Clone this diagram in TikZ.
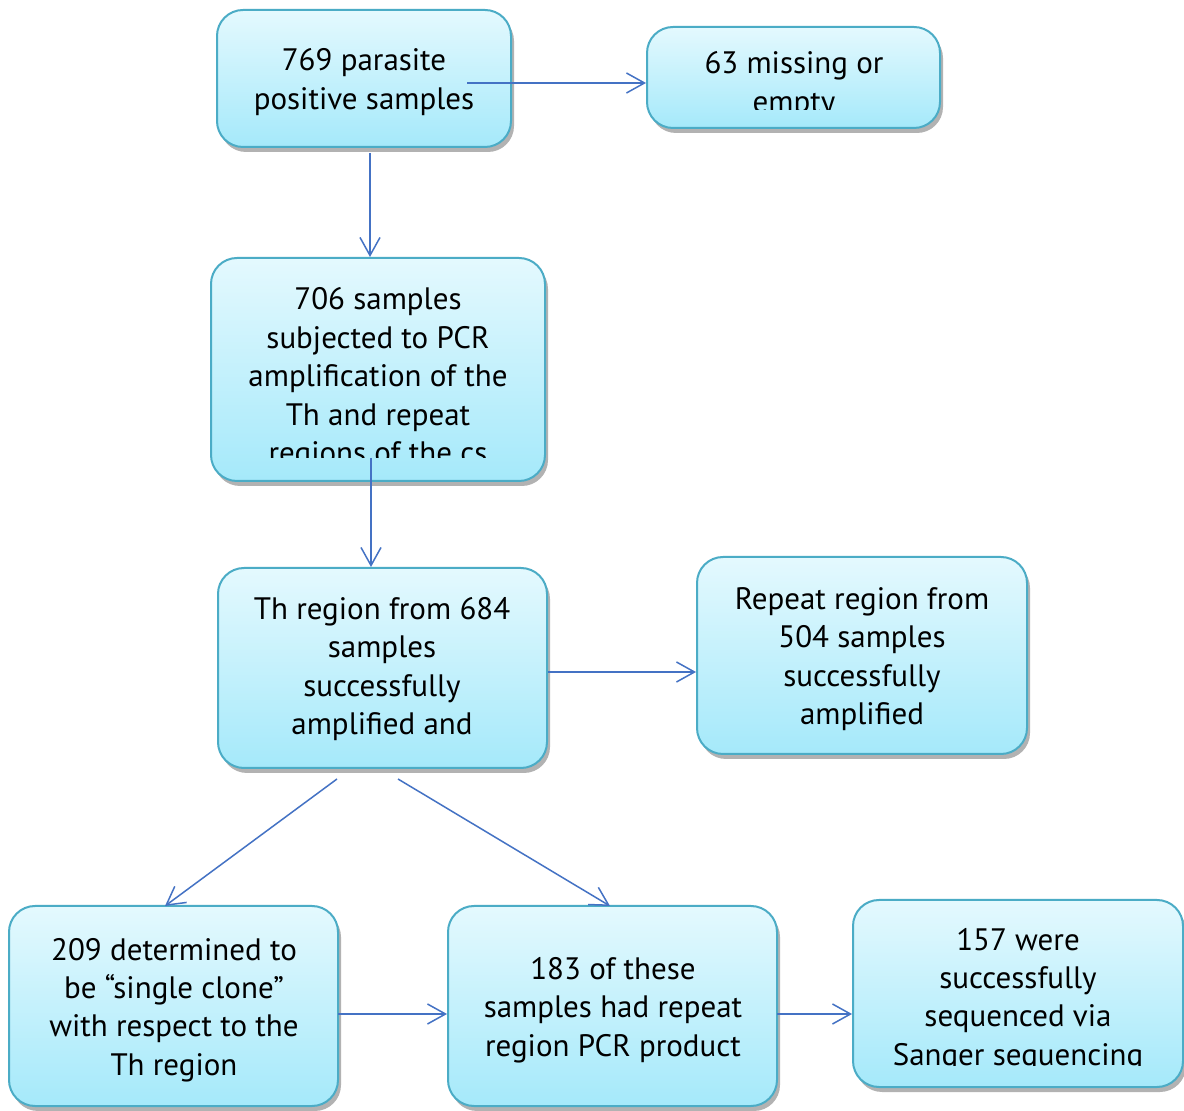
\documentclass[tikz,border=0pt]{standalone}
\usepackage{fontspec}
\setmainfont{PT Sans}
\usetikzlibrary{arrows.meta,shadows}
\definecolor{bordc}{RGB}{75,172,198}
\definecolor{topc}{RGB}{228,249,254}
\definecolor{botc}{RGB}{165,233,250}
\definecolor{arrc}{RGB}{68,114,196}
\begin{document}
\begin{tikzpicture}[x=0.5pt,y=-0.5pt,
  box/.style={draw=bordc, line width=1pt, rounded corners=13pt, top color=topc, bottom color=botc,
    drop shadow={shadow xshift=1.5pt,shadow yshift=-2.5pt,fill=black!50,opacity=0.6}, inner sep=0pt},
  txt/.style={align=center, font=\fontsize{15.5}{19.2}\selectfont, inner sep=0pt},
  arr/.style={draw=arrc, line width=0.75pt, -{Straight Barb[length=9pt,width=10pt]}}]
\useasboundingbox (0,0) rectangle (1184,1111);
\fill[white] (0,0) rectangle (1184,1111);
% boxes
\node[box, minimum width=147pt, minimum height=68.5pt] (A) at (364,78.5) {};
\node[box, minimum width=146.5pt, minimum height=50.5pt] (B) at (793.5,77.5) {};
\node[box, minimum width=167pt, minimum height=111.5pt] (C) at (378,369.5) {};
\node[box, minimum width=164.5pt, minimum height=100pt] (D) at (382.5,668) {};
\node[box, minimum width=165pt, minimum height=98.5pt] (E) at (862,655.5) {};
\node[box, minimum width=164.5pt, minimum height=100pt] (F) at (173.5,1006) {};
\node[box, minimum width=164.5pt, minimum height=100pt] (G) at (612.5,1006) {};
\node[box, minimum width=165pt, minimum height=93.5pt] (H) at (1018,993.5) {};
% texts
\node[txt] (At) at (364,82) {769 parasite\\positive samples};
\begin{scope}
  \clip (647,27) rectangle (940,110);
  \node[txt] (Bt) at (794,85) {63 missing or\\empty};
\end{scope}
\begin{scope}
  \clip (211,258) rectangle (545,458);
  \node[txt] (Ct) at (378,379) {706 samples\\subjected to PCR\\amplification of the\\Th and repeat\\regions of the cs};
\end{scope}
\node[txt] (Dt) at (382,669) {Th region from 684\\samples\\successfully\\amplified and};
\node[txt] (Et) at (862,659) {Repeat region from\\504 samples\\successfully\\amplified};
\node[txt] (Ft) at (174,1010) {209 determined to\\be “single clone”\\with respect to the\\Th region};
\node[txt] (Gt) at (613,1010) {183 of these\\samples had repeat\\region PCR product};
\begin{scope}
  \clip (853,900) rectangle (1183,1065);
  \node[txt] (Ht) at (1018,1000) {157 were\\successfully\\sequenced via\\Sanger sequencing};
\end{scope}
% connectors
\coordinate (a1) at (467,83);
\coordinate (a2) at (370,153);
\coordinate (c1) at (371,458);
\coordinate (d1) at (548,672);
\coordinate (d2) at (337,779);
\coordinate (d3) at (398,779);
\coordinate (f1) at (165,906);
\coordinate (g1) at (610,906);
\coordinate (f2) at (338,1014);
\coordinate (g2) at (777,1014);
\draw[arr] (a1) -- (a1 -| B.west);
\draw[arr] (a2) -- (a2 |- C.north);
\draw[arr] (c1) -- (c1 |- D.north);
\draw[arr] (d1) -- (d1 -| E.west);
\draw[arr] (d2) -- (f1);
\draw[arr] (d3) -- (g1);
\draw[arr] (f2) -- (f2 -| G.west);
\draw[arr] (g2) -- (g2 -| H.west);
\end{tikzpicture}
\end{document}
